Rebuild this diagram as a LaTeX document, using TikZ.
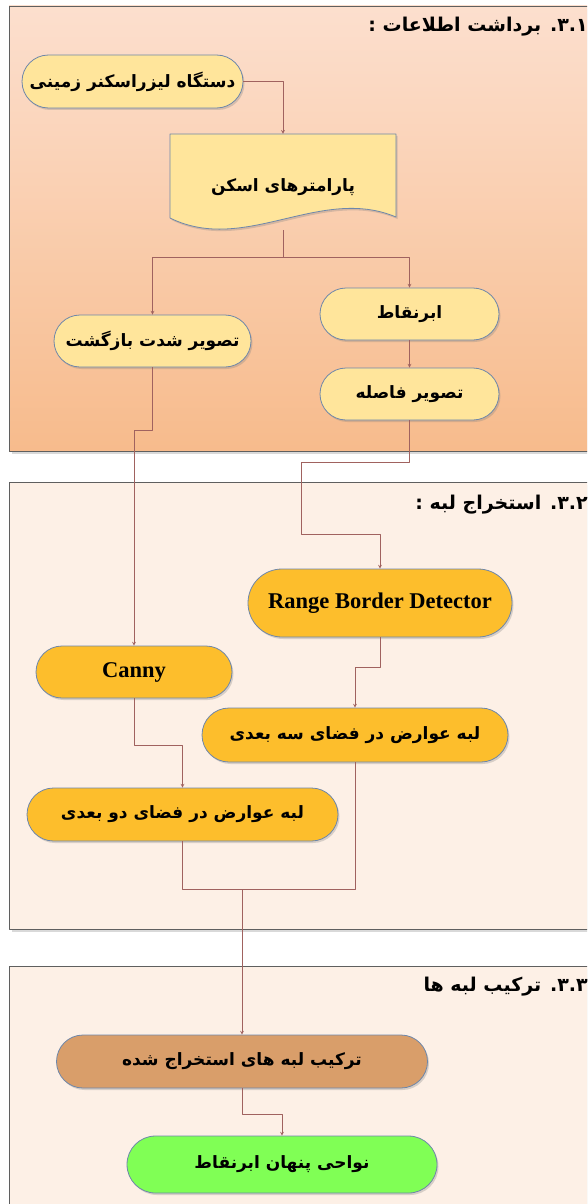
\documentclass[tikz,border=0pt]{standalone}
\usepackage{fontspec}
\setmainfont{Liberation Serif}
\newfontfamily\farsi[Script=Arabic]{DejaVu Sans}
\TeXXeTstate=1
\usetikzlibrary{positioning,shadows,calc}
\definecolor{frametop}{HTML}{FCDFCE}
\definecolor{framebot}{HTML}{F7BB8C}
\definecolor{framepale}{HTML}{FDF0E6}
\definecolor{frameline}{HTML}{5F5F5F}
\definecolor{pillline}{HTML}{6E87AA}
\definecolor{paleyellow}{HTML}{FFE59B}
\definecolor{amber}{HTML}{FDBE2C}
\definecolor{tan}{HTML}{D99E6A}
\definecolor{lime}{HTML}{80FF55}
\definecolor{linkred}{HTML}{A0625F}
\newcommand{\fatxt}[1]{{\farsi\bfseries\beginR #1\endR}}
\begin{document}
\begin{tikzpicture}[x=1pt,y=-1pt,>=stealth,line join=round,
  frame/.style={draw=frameline,line width=.9pt,
    drop shadow={shadow xshift=3pt,shadow yshift=-3pt,opacity=.3}},
  pill/.style={rectangle,draw=pillline,line width=.8pt,inner sep=0pt,
    minimum height=#1,rounded corners=.5*#1,font=\fontsize{17}{20}\selectfont,
    drop shadow={shadow xshift=1.5pt,shadow yshift=-2pt,opacity=.3}},
  latin/.style={font=\fontsize{22.5}{26}\selectfont\bfseries},
  title/.style={anchor=east,inner sep=0pt,font=\fontsize{19}{22}\selectfont},
  link/.style={draw=linkred,line width=.7pt}]
\useasboundingbox (0,0) rectangle (587,1204);
\clip (0,0) rectangle (587,1204);
% three frames
\path[frame,top color=frametop,bottom color=framebot] (9,6) rectangle (600,451);
\path[frame,fill=framepale] (9,482) rectangle (600,929);
\path[frame,fill=framepale] (9,966) rectangle (600,1230);
\node[title] (t1) at (588,27) {\fatxt{\beginL ۳.۱\endL. برداشت اطلاعات :}};
\node[title] (t2) at (588,505) {\fatxt{\beginL ۳.۲\endL. استخراج لبه :}};
\node[title] (t3) at (588,987) {\fatxt{\beginL ۳.۳\endL. ترکیب لبه ها}};
% data acquisition
\node[pill=53pt,fill=paleyellow,minimum width=221pt] (scanner) at (132.5,81.5) {\fatxt{دستگاه لیزراسکنر زمینی}};
\path[fill=paleyellow,draw=pillline,line width=.8pt,
  drop shadow={shadow xshift=1.5pt,shadow yshift=-2pt,opacity=.3}]
  (170,134) -- (396,134) -- (396,217) .. controls (320,185) and (245,255) .. (170,218) -- cycle;
\node[minimum width=226pt,minimum height=96pt,inner sep=0pt,font=\fontsize{17}{20}\selectfont] (params) at (283,182) {\raisebox{-5pt}[\height][\depth]{\fatxt{پارامترهای اسکن}}};
\node[pill=52pt,fill=paleyellow,minimum width=179pt] (cloud) at (409.5,314) {\fatxt{ابرنقاط}};
\node[pill=52pt,fill=paleyellow,minimum width=197pt] (intensity) at (152.5,341) {\fatxt{تصویر شدت بازگشت}};
\node[pill=52pt,fill=paleyellow,minimum width=179pt] (rangeimg) at (409.5,394) {\fatxt{تصویر فاصله}};
% edge extraction
\node[pill=68pt,fill=amber,minimum width=264pt,latin] (rbd) at (380,603) {Range Border Detector};
\node[pill=52pt,fill=amber,minimum width=196pt,latin] (canny) at (134,672) {Canny};
\node[pill=54pt,fill=amber,minimum width=306pt] (edge3d) at (355,735) {\fatxt{لبه عوارض در فضای سه بعدی}};
\node[pill=53pt,fill=amber,minimum width=311pt] (edge2d) at (182.5,814.5) {\fatxt{لبه عوارض در فضای دو بعدی}};
% fusion
\node[pill=53pt,fill=tan,minimum width=371pt] (combine) at (242,1061.5) {\fatxt{ترکیب لبه های استخراج شده}};
\node[pill=57pt,fill=lime,minimum width=310pt] (final) at (282,1164.5) {\fatxt{نواحی پنهان ابرنقاط}};
% connectors
\coordinate (split) at ($(params.south)+(0,27)$);
\coordinate (merge) at (242,889);
\draw[link,->] (scanner.east) -| (params.north);
\draw[link] (params.south) -- (split);
\draw[link,->] (split) -| (intensity.north);
\draw[link,->] (split) -| (cloud.north);
\draw[link,->] (cloud) -- (rangeimg);
\draw[link,->] (intensity.south) -- ++(0,63) -| (canny.north);
\draw[link,->] (rangeimg.south) -- ++(0,42) -| (301,534) -| (rbd.north);
\draw[link,->] (rbd.south) -- ++(0,30) -| (edge3d.north);
\draw[link,->] (canny.south) -- ++(0,47) -| (edge2d.north);
\draw[link] (edge2d.south) |- (merge) -| (edge3d.south);
\draw[link,->] (merge) -- (combine.north);
\draw[link,->] (combine.south) -- ++(0,26) -| (final.north);
\end{tikzpicture}
\end{document}
